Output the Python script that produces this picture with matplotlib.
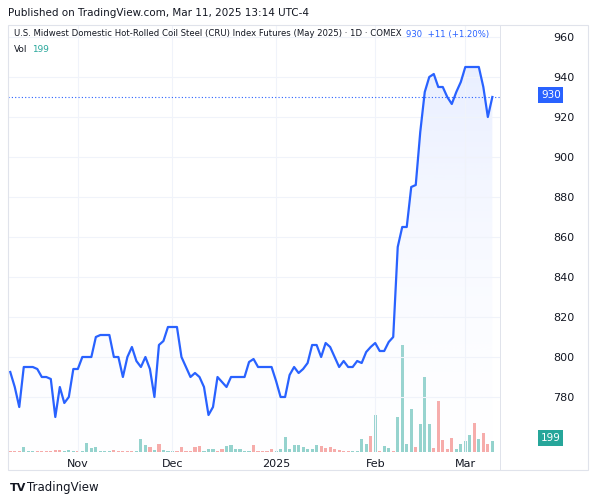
import matplotlib
matplotlib.use("Agg")
import matplotlib.pyplot as plt
import numpy as np
import pandas as pd
from matplotlib.patches import Rectangle

dates = pd.bdate_range("2024-10-11", "2025-03-11")[:108]
prices = [792.5, 785, 775, 795, 795, 795, 794, 790, 790, 789, 770, 785, 777, 780, 794, 794,
          800, 800, 800, 810, 811, 811, 811, 800, 800, 790, 800, 805, 798, 795, 800, 794, 780,
          806, 808, 815, 815, 815, 800, 795, 790, 792, 790, 785, 771, 775, 790, 787.5, 785, 790,
          790, 790, 790, 797.5, 799, 795, 795, 795, 795, 788, 780, 780, 791, 795, 792, 794, 797,
          806, 806, 800, 807, 805, 800, 795, 798, 795, 795, 798, 797, 802.5, 805, 807, 803, 803,
          807.5, 810,
          855, 865, 865, 885, 886, 912.5, 932.5, 940, 941.5, 935, 935, 930, 926.5, 932.5, 937.5,
          945, 945, 945, 945, 935, 920, 930]
volumes = [25, 25, 19, 87, 25, 25, 19, 19, 19, 25, 37, 37, 19, 37, 19, 19, 25, 174, 74, 87,
           25, 19, 25, 37, 19, 19, 19, 19, 19, 248, 124, 87, 37, 149, 37, 19, 19, 25, 99, 19,
           25, 87, 112, 19, 50, 50, 25, 62, 112, 136, 50, 50, 19, 19, 124, 19, 19, 25, 62, 19,
           50, 279, 62, 136, 136, 99, 62, 50, 136, 112, 74, 87, 62, 37, 25, 25, 19, 19, 248, 149,
           298, 682, 25, 112, 74, 25, 651, 1984, 149, 794, 87, 527, 1395, 527, 74, 942, 217, 50,
           260, 62, 149, 199, 322, 533, 248, 360, 149, 199]
vol_up = [0,0,0,1,1,1,0,0,0,0,0,0,1,1,1,0,1,1,1,1,1,1,1,0,0,0,0,0,1,1,1,0,1,0,1,1,1,0,0,0,
          0,0,0,1,1,1,0,0,1,1,1,1,1,1,0,0,0,0,0,1,1,1,1,1,1,1,1,1,1,0,0,0,0,0,0,0,1,1,1,1,
          0,1,0,1,1,0,1,1,1,1,0,1,1,1,0,0,0,0,0,1,1,1,1,0,1,0,0,1]
tick_labels = ["Nov", "Dec", "2025", "Feb", "Mar"]
tick_dates = ["2024-11-01", "2024-12-02", "2025-01-02", "2025-02-03", "2025-03-03"]

W, H = 593, 501
fig = plt.figure(figsize=(W/100, H/100), dpi=100)
plt.rcParams['font.family'] = ['DejaVu Sans']
x0, x1, y0, y1 = 8, 500, 25, 452
ax = fig.add_axes([x0/W, 1 - y1/H, (x1-x0)/W, (y1-y0)/H])
idx = np.arange(len(prices))
ax.set_xlim(-0.5, 108.7)
ax.set_ylim(752.5, 966)

axv = ax.twinx()
axv.set_ylim(0, 7900)
cols = ['#92d2cc' if u else '#f7a9a7' for u in vol_up]
axv.bar(idx, volumes, width=0.7, color=cols, zorder=1)
axv.set_yticks([])
ax.set_zorder(axv.get_zorder() + 1)
ax.patch.set_visible(False)

grad = np.linspace(0.04, 0.32, 256).reshape(-1, 1)
cmap = matplotlib.colors.LinearSegmentedColormap.from_list('g', [(1, 1, 1, 0), (0.16, 0.38, 1.0, 1)])
im = ax.imshow(grad, extent=[0, len(prices)-1, 752.5, 945], aspect='auto', cmap=cmap,
               vmin=0, vmax=1, origin='lower', zorder=1)
poly = ax.fill_between(idx, prices, 752.5, color='none')
im.set_clip_path(poly.get_paths()[0], transform=ax.transData)
ax.plot(idx, prices, color='#2962ff', lw=1.6, zorder=3)
ax.axhline(prices[-1], color='#2962ff', lw=0.8, ls=(0, (1, 2)), zorder=2)

pos = [int(np.searchsorted(dates, pd.Timestamp(d))) for d in tick_dates]
ax.set_xticks(pos)
ax.set_xticklabels(tick_labels, fontsize=8, color='#131722')
ax.set_yticks([780, 800, 820, 840, 860, 880, 900, 920, 940, 960])
ax.yaxis.tick_right()
ax.tick_params(axis='y', length=0, labelsize=8, labelcolor='#131722', pad=38)
ax.tick_params(axis='x', length=0, pad=5)
ax.grid(True, color='#f0f3fa', lw=0.8)
for s in list(ax.spines.values()) + list(axv.spines.values()):
    s.set_visible(False)

fig.patches.append(Rectangle((8/W, 1-470/H), 580/W, 445/H, transform=fig.transFigure,
                             fill=False, ec='#e0e3eb', lw=0.8))
fig.patches.append(Rectangle((500/W, 1-470/H), 0.001, 445/H, transform=fig.transFigure,
                             fill=True, ec='none', fc='#e0e3eb'))

fig.text(8/W, 1-13/H, "Published on TradingView.com, Mar 11, 2025 13:14 UTC-4", fontsize=7.5,
         color='#131722', va='center')
t = fig.text(14/W, 1-34/H, "U.S. Midwest Domestic Hot-Rolled Coil Steel (CRU) Index Futures (May 2025) · 1D · COMEX",
             fontsize=6.1, color='#131722', va='center')
fig.canvas.draw()
bb = t.get_window_extent()
fig.text((bb.x1 + 4)/W, 1-34/H, "930  +11 (+1.20%)", fontsize=6.1, color='#2962ff', va='center')
fig.text(14/W, 1-50/H, "Vol", fontsize=6.4, color='#131722', va='center')
fig.text(32/W, 1-50/H, "199", fontsize=6.4, color='#26a69a', va='center')
fig.text(541/W, 1-95/H, "930", fontsize=7.5, color='white', va='center', ha='left',
         bbox=dict(boxstyle='square,pad=0.25', fc='#2962ff', ec='none'))
fig.text(541/W, 1-438/H, "199", fontsize=7.5, color='white', va='center', ha='left',
         bbox=dict(boxstyle='square,pad=0.25', fc='#26a69a', ec='none'))
fig.text(10/W, 1-488/H, "TV", fontsize=8, color='#131722', fontweight='bold', va='center')
fig.text(27/W, 1-488/H, "TradingView", fontsize=8.5, color='#131722', va='center')

fig.savefig("out.png", dpi=100, facecolor='white')
